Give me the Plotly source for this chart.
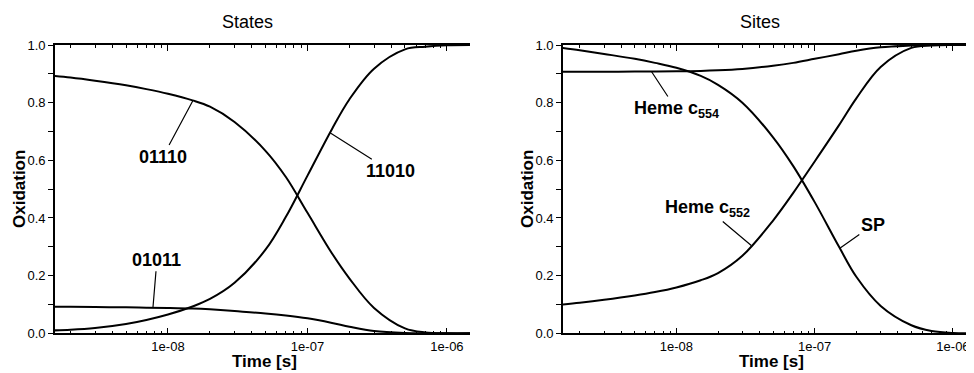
import numpy as np
import plotly.graph_objects as go

# ---------------- data ----------------
TIME = [1.5e-9, 2e-9, 3e-9, 5e-9, 7e-9, 1e-8, 1.5e-8, 2e-8, 3e-8, 5e-8,
        7e-8, 1e-7, 1.5e-7, 2e-7, 3e-7, 5e-7, 7e-7, 1e-6, 1.5e-6]

# "States" panel
STATE_01110 = [0.893, 0.887, 0.876, 0.860, 0.847, 0.831, 0.808, 0.786, 0.733, 0.633,
               0.542, 0.418, 0.277, 0.190, 0.088, 0.017, 0.003, 0.000, 0.000]
STATE_11010 = [0.010, 0.012, 0.018, 0.032, 0.046, 0.065, 0.093, 0.119, 0.175, 0.290,
               0.404, 0.547, 0.709, 0.812, 0.918, 0.985, 0.994, 0.999, 1.000]
STATE_01011 = [0.092, 0.092, 0.091, 0.090, 0.089, 0.088, 0.086, 0.083, 0.077, 0.069,
               0.062, 0.052, 0.036, 0.023, 0.008, 0.001, 0.000, 0.000, 0.000]

# "Sites" panel
HEME_C554 = [0.907, 0.907, 0.907, 0.908, 0.908, 0.909, 0.910, 0.912, 0.917, 0.928,
             0.938, 0.952, 0.968, 0.980, 0.992, 0.998, 1.000, 1.000, 1.000]
HEME_C552 = [0.100, 0.106, 0.116, 0.131, 0.143, 0.159, 0.184, 0.209, 0.269, 0.391,
             0.487, 0.596, 0.722, 0.815, 0.924, 0.990, 0.998, 1.000, 1.000]
SP = [0.990, 0.982, 0.969, 0.952, 0.938, 0.921, 0.893, 0.862, 0.800, 0.680,
      0.580, 0.455, 0.300, 0.196, 0.095, 0.028, 0.008, 0.001, 0.000]

X_TICK_VALUES = [1e-8, 1e-7, 1e-6]
X_TICK_TEXT = ["1e-08", "1e-07", "1e-06"]
X_MINOR_VALUES = [m * d for d in (1e-9, 1e-8, 1e-7, 1e-6) for m in range(2, 10)]
Y_TICK_VALUES = [0.0, 0.2, 0.4, 0.6, 0.8, 1.0]
Y_MINOR_VALUES = [0.1, 0.3, 0.5, 0.7, 0.9]

PANEL_TITLES = ["States", "Sites"]
X_TITLE = "Time [s]"
Y_TITLE = "Oxidation"

# ---------------- figure ----------------
# the page body adds an 8px margin, so the figure fills the rest of the window
OFF = 8
W, H = 974 - OFF, 373 - OFF
FONT = "Liberation Sans, Arial, Helvetica, sans-serif"
BLACK = "#000000"


def px_x(p):
    return (p - OFF) / W


def px_y(p):
    return 1 - (p - OFF) / H


fig = go.Figure()

line_style = dict(color=BLACK, width=2, shape="spline", smoothing=1.0)
for series in (STATE_01110, STATE_11010, STATE_01011):
    fig.add_trace(go.Scatter(x=TIME, y=series, mode="lines", line=line_style,
                             xaxis="x", yaxis="y", showlegend=False, hoverinfo="skip"))
for series in (HEME_C554, HEME_C552, SP):
    fig.add_trace(go.Scatter(x=TIME, y=series, mode="lines", line=line_style,
                             xaxis="x2", yaxis="y2", showlegend=False, hoverinfo="skip"))

tick_font = dict(family=FONT, size=13, color=BLACK)


def xaxis(domain, rng, anchor):
    return dict(type="log", domain=domain, range=rng, anchor=anchor,
                showgrid=False, zeroline=False,
                showline=True, linecolor=BLACK, linewidth=1.6, mirror="ticks",
                ticks="inside", ticklen=6, tickwidth=1.3, tickcolor=BLACK,
                tickmode="array", tickvals=X_TICK_VALUES, ticktext=X_TICK_TEXT,
                tickfont=tick_font, automargin=False,
                minor=dict(tickmode="array", tickvals=X_MINOR_VALUES, ticks="inside",
                           ticklen=3, tickwidth=1.1, tickcolor=BLACK, showgrid=False))


def yaxis_left(domain, anchor):
    return dict(domain=domain, range=[0, 1], anchor=anchor, showgrid=False, zeroline=False,
                showline=True, linecolor=BLACK, linewidth=1.6,
                ticks="outside", ticklen=5, tickwidth=1.3, tickcolor=BLACK,
                tickmode="array", tickvals=Y_TICK_VALUES, tickformat=".1f",
                tickfont=tick_font, automargin=False,
                minor=dict(tickmode="array", tickvals=Y_MINOR_VALUES, ticks="outside",
                           ticklen=5, tickwidth=1.3, tickcolor=BLACK, showgrid=False))


def yaxis_right(over, anchor, show_line, show_labels):
    return dict(overlaying=over, side="right", anchor=anchor, range=[0, 1],
                showgrid=False, zeroline=False, showline=show_line, linecolor=BLACK,
                linewidth=1.6, ticks="inside", ticklen=7, tickwidth=1.3, tickcolor=BLACK,
                tickmode="array", tickvals=Y_TICK_VALUES, tickformat=".1f",
                showticklabels=show_labels, tickfont=tick_font, automargin=False,
                minor=dict(tickmode="array", tickvals=Y_MINOR_VALUES, ticks="inside",
                           ticklen=5, tickwidth=1.3, tickcolor=BLACK, showgrid=False))


y_dom = [px_y(333.3), px_y(45)]

fig.update_layout(
    width=W, height=H,
    margin=dict(l=0, r=0, t=0, b=0, pad=0),
    paper_bgcolor="white", plot_bgcolor="white",
    font=dict(family=FONT, color=BLACK),
    xaxis=xaxis([px_x(55), px_x(470)], [-8.81, -5.835], "y"),
    yaxis=yaxis_left(y_dom, "x"),
    yaxis3=yaxis_right("y", "x", True, True),
    xaxis2=xaxis([px_x(563), 1.0], [-8.82, -5.848], "y2"),
    yaxis2=yaxis_left(y_dom, "x2"),
    yaxis4=yaxis_right("y2", "x2", False, False),
)

# ---------------- text ----------------
ann = []
for title, cx in zip(PANEL_TITLES, (247, 760)):
    ann.append(dict(text=title, x=px_x(cx), y=px_y(22), xref="paper", yref="paper",
                    showarrow=False, xanchor="center", yanchor="middle",
                    font=dict(family=FONT, size=18, color=BLACK)))
for cx in (264, 771):
    ann.append(dict(text="<b>%s</b>" % X_TITLE, x=px_x(cx), y=px_y(361), xref="paper",
                    yref="paper", showarrow=False, xanchor="center", yanchor="middle",
                    font=dict(family=FONT, size=17, color=BLACK)))
for cx in (19, 527):
    ann.append(dict(text="<b>%s</b>" % Y_TITLE, x=px_x(cx), y=px_y(189), xref="paper",
                    yref="paper", showarrow=False, textangle=-90, xanchor="center",
                    yanchor="middle", font=dict(family=FONT, size=17, color=BLACK)))

LOG_T = np.log10(TIME)


def curve_label(xref, yref, t, series, text, ax, ay):
    lx = float(np.log10(t))
    y = float(np.interp(lx, LOG_T, series))
    return dict(x=lx, y=y, xref=xref, yref=yref, text="<b>%s</b>" % text,
                showarrow=True, arrowhead=0, arrowwidth=1.2, arrowcolor=BLACK,
                ax=ax, ay=ay, standoff=0, startstandoff=0,
                font=dict(family=FONT, size=18, color=BLACK))


ann.append(curve_label("x", "y", 1.51e-8, STATE_01110, "01110", -30, 56))
ann.append(curve_label("x", "y", 1.45e-7, STATE_11010, "11010", 60, 38))
ann.append(curve_label("x", "y", 7.8e-9, STATE_01011, "01011", 4, -48))
ann.append(curve_label("x2", "y2", 6.6e-9, HEME_C554, "Heme c<sub>554</sub>", 25, 38))
ann.append(curve_label("x2", "y2", 3.48e-8, HEME_C552, "Heme c<sub>552</sub>", -44, -37))
ann.append(curve_label("x2", "y2", 1.52e-7, SP, "SP", 33, -23))

fig.update_layout(annotations=ann)
fig.write_html("out.html")
